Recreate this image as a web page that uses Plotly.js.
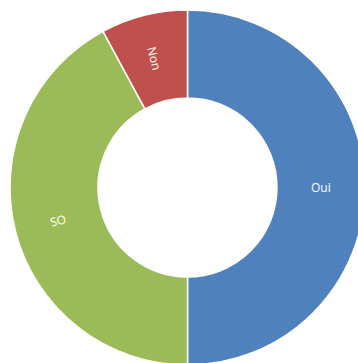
<!DOCTYPE html>
<html>
<head>
<meta charset="utf-8">
<script src="https://cdn.plot.ly/plotly-3.0.1.min.js"></script>
<style>
html,body{margin:0;padding:0;overflow:hidden;background:#fff;}
#chart{width:375px;height:375px;}
</style>
</head>
<body>
<div id="chart"></div>
<script>
var labels = ['Oui', 'SO', 'Non'];
var values = [19, 16, 3];
var colors = ['#4F81BD', '#9BBB59', '#C0504D'];

var HOLE = 0.504;
var total = values.reduce(function (a, b) { return a + b; }, 0);
var annotations = [];
var cum = 0;
var rMid = (HOLE + 1) / 2 * 0.5;
for (var i = 0; i < values.length; i++) {
  var mid = (cum + values[i] / 2) / total * 360;
  cum += values[i];
  var rad = mid * Math.PI / 180;
  var ang = mid < 180 ? mid - 90 : mid - 270;
  annotations.push({
    xref: 'paper', yref: 'paper',
    x: 0.5 + rMid * Math.sin(rad),
    y: 0.5 + rMid * Math.cos(rad),
    xanchor: 'center', yanchor: 'middle',
    text: labels[i],
    textangle: ang,
    showarrow: false,
    font: {family: 'Open Sans', size: 12, color: '#ffffff'}
  });
}

Plotly.newPlot('chart', [{
  type: 'pie',
  labels: labels,
  values: values,
  sort: false,
  direction: 'clockwise',
  rotation: 0,
  hole: HOLE,
  textinfo: 'none',
  marker: {colors: colors, line: {color: '#ffffff', width: 1.5}},
  showlegend: false,
  hoverinfo: 'none'
}], {
  width: 375,
  height: 375,
  margin: {l: 10, r: 10, t: 10, b: 10},
  paper_bgcolor: '#ffffff',
  showlegend: false,
  annotations: annotations
}, {staticPlot: true, displayModeBar: false});
</script>
</body>
</html>
